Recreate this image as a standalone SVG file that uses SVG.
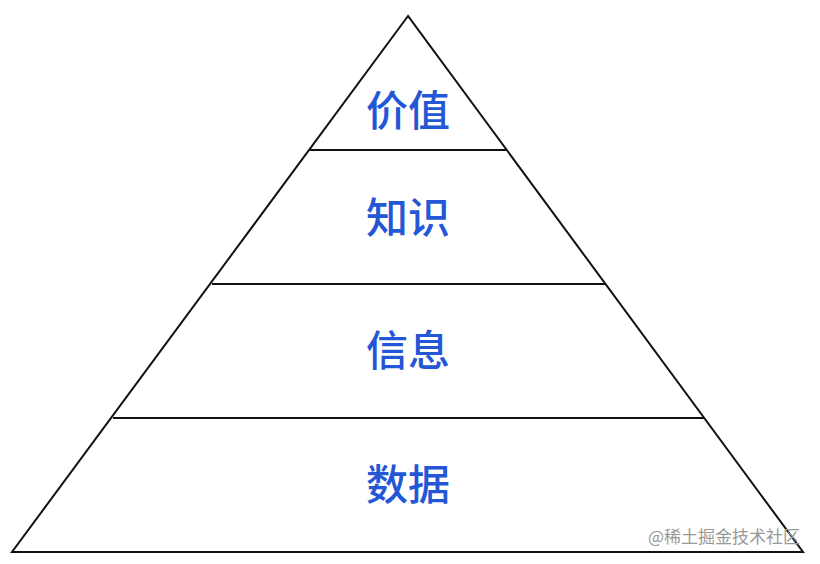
<svg xmlns="http://www.w3.org/2000/svg" width="820" height="564" viewBox="0 0 820 564">
<style>
.l{fill:none;stroke:#111;stroke-width:2}
.t{font-family:"Noto Sans CJK SC",sans-serif;font-size:42px;fill:#2457d6;text-anchor:middle;font-weight:500}
.w{font-family:"Noto Sans CJK SC",sans-serif;font-size:17px;fill:#999}
</style>
<rect width="820" height="564" fill="#fff"/>
<g id="pyramid"><polygon class="l" points="408,16 12,552 803,552"/></g>
<g id="connectors">
<line class="l" x1="310" y1="150" x2="506" y2="150"/>
<line class="l" x1="212" y1="284" x2="605" y2="284"/>
<line class="l" x1="113" y1="418" x2="704" y2="418"/>
</g>
<g id="n1"><text class="t" x="408" y="126">价值</text></g>
<g id="n2"><text class="t" x="408" y="233">知识</text></g>
<g id="n3"><text class="t" x="408" y="366">信息</text></g>
<g id="n4"><text class="t" x="408" y="500">数据</text></g>
<text class="w" x="648" y="543">@稀土掘金技术社区</text>
</svg>
